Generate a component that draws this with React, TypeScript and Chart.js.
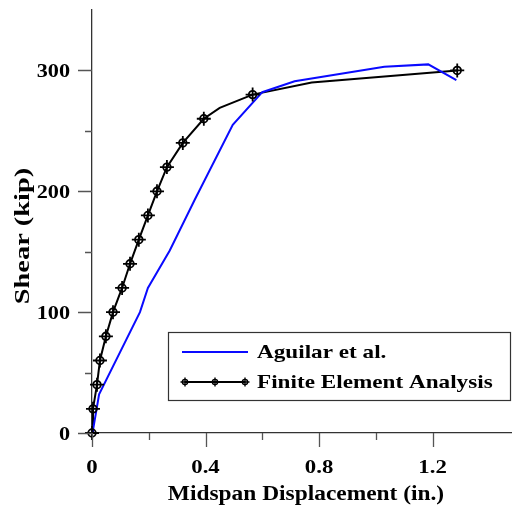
import React, { useEffect, useRef } from "react";
import { Chart, registerables } from "chart.js";

Chart.register(...registerables);

const aguilarX = [0, 0.004, 0.025, 0.169, 0.197, 0.274, 0.362, 0.496, 0.6, 0.714, 1.03, 1.185, 1.284];
const aguilarY = [0, 3, 32, 100, 120, 151, 193, 255, 282, 291, 303, 305, 292];

const feaX = [0, 0.0035, 0.0176, 0.028, 0.049, 0.074, 0.106, 0.134, 0.165, 0.197, 0.229, 0.264, 0.32, 0.394, 0.45, 0.566, 0.774, 1.287];
const feaY = [0, 20, 40, 60, 80, 100, 120, 140, 160, 180, 200, 220, 240, 260, 269, 280, 290, 300];
const feaMarked = [1, 1, 1, 1, 1, 1, 1, 1, 1, 1, 1, 1, 1, 1, 0, 1, 0, 1];

const xLabels = ["0", "0.4", "0.8", "1.2"];
const yLabels = ["0", "100", "200", "300"];
const seriesNames = ["Aguilar et al.", "Finite Element Analysis"];
const xTitle = "Midspan Displacement (in.)";
const yTitle = "Shear (kip)";

const FONT = "'Liberation Serif', 'Times New Roman', serif";

function drawMarker(ctx: CanvasRenderingContext2D, x: number, y: number, r: number, arm: number, lw: number) {
  ctx.save();
  ctx.strokeStyle = "#000";
  ctx.lineWidth = lw;
  ctx.beginPath();
  ctx.arc(x, y, r, 0, Math.PI * 2);
  ctx.stroke();
  ctx.beginPath();
  ctx.moveTo(x - arm, y);
  ctx.lineTo(x + arm, y);
  ctx.moveTo(x, y - arm);
  ctx.lineTo(x, y + arm);
  ctx.stroke();
  ctx.restore();
}

function drawText(
  ctx: CanvasRenderingContext2D,
  text: string,
  x: number,
  y: number,
  align: CanvasTextAlign,
  size: number,
  sx: number,
  rotate = 0
) {
  ctx.save();
  ctx.translate(x, y);
  if (rotate) ctx.rotate(rotate);
  ctx.scale(sx, 1);
  ctx.font = `bold ${size}px ${FONT}`;
  ctx.fillStyle = "#000";
  ctx.textAlign = align;
  ctx.textBaseline = "alphabetic";
  ctx.fillText(text, 0, 0);
  ctx.restore();
}

const markerPlugin = {
  id: "markers",
  afterDatasetsDraw(chart: any) {
    const ctx: CanvasRenderingContext2D = chart.ctx;
    const meta = chart.getDatasetMeta(1);
    meta.data.forEach((pt: any, i: number) => {
      if (feaMarked[i]) drawMarker(ctx, pt.x, pt.y, 3.8, 7, 1.8);
    });
  },
};

const decorPlugin = {
  id: "decor",
  afterDraw(chart: any) {
    const ctx: CanvasRenderingContext2D = chart.ctx;
    const area = chart.chartArea;
    const xs = chart.scales.x;
    const ys = chart.scales.y;
    ctx.save();
    // ticks
    ctx.strokeStyle = "#555";
    ctx.lineWidth = 1.3;
    ctx.beginPath();
    xs.ticks.forEach((t: any) => {
      const v = t.value;
      const major = Math.abs(v / 0.4 - Math.round(v / 0.4)) < 1e-6;
      const px = Math.round(xs.getPixelForValue(v)) + 0.5;
      ctx.moveTo(px, area.bottom);
      ctx.lineTo(px, area.bottom + (major ? 14 : 7));
    });
    ys.ticks.forEach((t: any) => {
      const v = t.value;
      const major = Math.abs(v / 100 - Math.round(v / 100)) < 1e-6;
      const py = Math.round(ys.getPixelForValue(v)) + 0.5;
      ctx.moveTo(area.left, py);
      ctx.lineTo(area.left - (major ? 14 : 7), py);
    });
    ctx.stroke();

    // tick labels
    xLabels.forEach((lab, i) => {
      const px = xs.getPixelForValue(i * 0.4);
      drawText(ctx, lab, px, area.bottom + 40, "center", 19, 1.2);
    });
    yLabels.forEach((lab, i) => {
      const py = ys.getPixelForValue(i * 100);
      drawText(ctx, lab, area.left - 22, py + 7, "right", 19, 1.17);
    });

    // axis titles
    drawText(ctx, xTitle, area.left + 214, area.bottom + 67, "center", 20, 1.17);
    drawText(ctx, yTitle, 29, area.top + 226, "center", 20, 1.42, -Math.PI / 2);

    // legend
    const lx = area.left + 76;
    const ly = area.top + 322;
    const lw = area.right - 2 - lx;
    const lh = 68;
    ctx.fillStyle = "#fff";
    ctx.fillRect(lx, ly, lw, lh);
    ctx.strokeStyle = "#333";
    ctx.lineWidth = 1.2;
    ctx.strokeRect(lx + 0.5, ly + 0.5, lw, lh);

    const r1 = ly + 20;
    const r2 = ly + 50;
    ctx.strokeStyle = "#0a0aff";
    ctx.lineWidth = 2;
    ctx.beginPath();
    ctx.moveTo(lx + 14, r1);
    ctx.lineTo(lx + 80, r1);
    ctx.stroke();
    ctx.strokeStyle = "#000";
    ctx.beginPath();
    ctx.moveTo(lx + 17, r2);
    ctx.lineTo(lx + 77, r2);
    ctx.stroke();
    [17, 47, 77].forEach((o) => drawMarker(ctx, lx + o, r2, 2.6, 4.5, 1.4));

    drawText(ctx, seriesNames[0], lx + 89, r1 + 6, "left", 19, 1.22);
    drawText(ctx, seriesNames[1], lx + 89, r2 + 6, "left", 19, 1.22);
    ctx.restore();
  },
};

export default function App() {
  const ref = useRef<HTMLCanvasElement | null>(null);
  useEffect(() => {
    document.body.style.margin = "0";
    const chart = new Chart(ref.current!, {
      type: "line",
      data: {
        datasets: [
          {
            label: seriesNames[0],
            data: aguilarX.map((x, i) => ({ x, y: aguilarY[i] })),
            borderColor: "#0a0aff",
            borderWidth: 2,
            pointRadius: 0,
            tension: 0,
            clip: false as any,
          },
          {
            label: seriesNames[1],
            data: feaX.map((x, i) => ({ x, y: feaY[i] })),
            borderColor: "#000",
            borderWidth: 2,
            pointRadius: 0,
            pointHoverRadius: 0,
            tension: 0,
            clip: false as any,
          },
        ],
      },
      options: {
        animation: false,
        responsive: true,
        maintainAspectRatio: false,
        layout: { padding: { top: 10, right: 0, left: 0, bottom: 0 } },
        plugins: { legend: { display: false }, tooltip: { enabled: false } },
        scales: {
          x: {
            type: "linear",
            min: 0,
            max: 1.48,
            grid: { display: false, drawTicks: false },
            border: { display: true, color: "#333", width: 1.3 },
            afterBuildTicks: (s: any) => {
              s.ticks = s.ticks.filter(
                (t: any) => Math.abs(t.value / 0.2 - Math.round(t.value / 0.2)) < 1e-6 && t.value <= 1.4 + 1e-9
              );
            },
            afterFit: (s: any) => {
              s.height = 73;
            },
            ticks: { stepSize: 0.2, display: false, autoSkip: false },
          },
          y: {
            type: "linear",
            min: 0,
            max: 350,
            grid: { display: false, drawTicks: false },
            border: { display: true, color: "#333", width: 1.3 },
            afterBuildTicks: (s: any) => {
              s.ticks = s.ticks.filter((t: any) => t.value < 349);
            },
            afterFit: (s: any) => {
              s.width = 92;
            },
            ticks: { stepSize: 50, display: false, autoSkip: false },
          },
        },
      },
      plugins: [markerPlugin, decorPlugin],
    });
    return () => chart.destroy();
  }, []);
  return (
    <div style={{ width: 512, height: 506, position: "relative", background: "#fff" }}>
      <canvas ref={ref} />
    </div>
  );
}
